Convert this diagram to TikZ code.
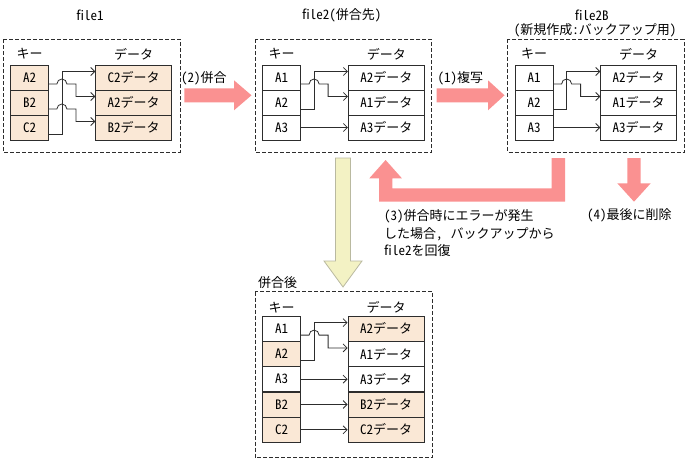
\documentclass[tikz,border=0pt]{standalone}
\usepackage{fontspec}
\setmainfont{Noto Sans CJK JP}[RawFeature=+hwid]
\usetikzlibrary{arrows.meta,calc}
\definecolor{beige}{RGB}{250,232,214}
\definecolor{pinkarrow}{RGB}{250,145,145}
\definecolor{paleyellow}{RGB}{243,242,196}
\definecolor{paleedge}{RGB}{185,185,160}
\definecolor{linec}{RGB}{45,45,45}
\begin{document}
\begin{tikzpicture}[x=1pt,y=-1pt,
  every node/.style={font=\fontsize{13}{17.3}\selectfont, inner sep=0pt},
  keycell/.style={draw=linec, line width=0.8pt, minimum width=38pt, minimum height=25pt},
  datacell/.style={draw=linec, line width=0.8pt, minimum width=76pt, minimum height=25pt},
  filled/.style={fill=beige},
  plain/.style={fill=white},
  filebox/.style={draw=linec, line width=0.9pt, dash pattern=on 4pt off 2pt},
  conn/.style={draw=linec, line width=0.8pt, -{Straight Barb[length=4pt,width=8pt]}},
  bigarrow/.style={fill=pinkarrow},
  palearrow/.style={fill=paleyellow, draw=paleedge, line width=0.8pt},
]
\useasboundingbox (0,0) rectangle (687,461);

% ---------- file1 ----------
\node (t1) at (90,15) {file1};
\draw[filebox] (3.3,39.3) rectangle (180,152.3);
\node (h1k) at (29.5,54) {キー};
\node (h1d) at (133.7,54) {データ};
\node[keycell,filled] (ak0) at (29.5,77.5) {A2};
\node[keycell,filled] (ak1) at (29.5,102.5) {B2};
\node[keycell,filled] (ak2) at (29.5,127.5) {C2};
\node[datacell,filled] (ad0) at (133.7,77.5) {C2データ};
\node[datacell,filled] (ad1) at (133.7,102.5) {A2データ};
\node[datacell,filled] (ad2) at (133.7,127.5) {B2データ};
\draw[conn] ([yshift=-6.5pt]ak2.east) -- ++(13,0) |- ([yshift=6pt]ad0.west);
\draw[conn] ([yshift=-6.5pt]ak0.east) -- ++(8,0) arc[start angle=180,end angle=0,radius=5pt] -- ++(9,0) |- ([yshift=6pt]ad1.west);
\draw[conn] ([yshift=-6.5pt]ak1.east) -- ++(8,0) arc[start angle=180,end angle=0,radius=5pt] -- ++(9,0) |- ([yshift=6pt]ad2.west);

% ---------- file2 ----------
\node (t2) at (341.7,15) {file2(併合先)};
\draw[filebox] (255,39.3) rectangle (431.7,152.3);
\node (h2k) at (281.7,54) {キー};
\node (h2d) at (386.3,54) {データ};
\node[keycell,plain] (bk0) at (281.7,77.5) {A1};
\node[keycell,plain] (bk1) at (281.7,102.5) {A2};
\node[keycell,plain] (bk2) at (281.7,127.5) {A3};
\node[datacell,plain] (bd0) at (386.3,77.5) {A2データ};
\node[datacell,plain] (bd1) at (386.3,102.5) {A1データ};
\node[datacell,plain] (bd2) at (386.3,127.5) {A3データ};
\draw[conn] ([yshift=-6.5pt]bk1.east) -- ++(13,0) |- ([yshift=6pt]bd0.west);
\draw[conn] ([yshift=-6.5pt]bk0.east) -- ++(8,0) arc[start angle=180,end angle=0,radius=5pt] -- ++(9,0) |- ([yshift=6pt]bd1.west);
\draw[conn] (bk2.east) -- (bd2.west);

% ---------- file2B ----------
\node (t3) at (591.7,15) {file2B};
\node (t3b) at (595,30) {(新規作成:バックアップ用)};
\draw[filebox] (507.7,39.3) rectangle (684,152.3);
\node (h3k) at (534.2,54) {キー};
\node (h3d) at (638.7,54) {データ};
\node[keycell,plain] (ck0) at (534.2,77.5) {A1};
\node[keycell,plain] (ck1) at (534.2,102.5) {A2};
\node[keycell,plain] (ck2) at (534.2,127.5) {A3};
\node[datacell,plain] (cd0) at (638.7,77.5) {A2データ};
\node[datacell,plain] (cd1) at (638.7,102.5) {A1データ};
\node[datacell,plain] (cd2) at (638.7,127.5) {A3データ};
\draw[conn] ([yshift=-6.5pt]ck1.east) -- ++(13,0) |- ([yshift=6pt]cd0.west);
\draw[conn] ([yshift=-6.5pt]ck0.east) -- ++(8,0) arc[start angle=180,end angle=0,radius=5pt] -- ++(9,0) |- ([yshift=6pt]cd1.west);
\draw[conn] (ck2.east) -- (cd2.west);

% ---------- merged ----------
\node[anchor=west] (t4) at (258,283) {併合後};
\draw[filebox] (255,291.7) rectangle (432.7,457.3);
\node (h4k) at (281.7,307.7) {キー};
\node (h4d) at (386,307.7) {データ};
\node[keycell,plain]  (mk0) at (281.7,328.6) {A1};
\node[keycell,filled] (mk1) at (281.7,353.9) {A2};
\node[keycell,plain]  (mk2) at (281.7,379.2) {A3};
\node[keycell,filled] (mk3) at (281.7,404.5) {B2};
\node[keycell,filled] (mk4) at (281.7,429.8) {C2};
\node[datacell,filled] (md0) at (386,328.6) {A2データ};
\node[datacell,plain]  (md1) at (386,353.9) {A1データ};
\node[datacell,plain]  (md2) at (386,379.2) {A3データ};
\node[datacell,filled] (md3) at (386,404.5) {B2データ};
\node[datacell,filled] (md4) at (386,429.8) {C2データ};
\draw[conn] ([yshift=-6.5pt]mk1.east) -- ++(13,0) |- ([yshift=6pt]md0.west);
\draw[conn] ([yshift=-6.5pt]mk0.east) -- ++(8,0) arc[start angle=180,end angle=0,radius=5pt] -- ++(9,0) |- ([yshift=6pt]md1.west);
\draw[conn] (mk2.east) -- (md2.west);
\draw[conn] (mk3.east) -- (md3.west);
\draw[conn] (mk4.east) -- (md4.west);

% ---------- big arrows ----------
\fill[bigarrow] (184.3,88.3) -- (234,88.3) -- (234,80.3) -- (251.5,95.3) -- (234,110.3) -- (234,102.3) -- (184.3,102.3) -- cycle;
\node[anchor=west] (l2) at (181,78.7) {(2)併合};
\fill[bigarrow] (436.7,88.3) -- (488,88.3) -- (488,80.3) -- (504.5,95.3) -- (488,110.3) -- (488,102.3) -- (436.7,102.3) -- cycle;
\node[anchor=west] (l1) at (437.5,78.7) {(1)複写};
\fill[bigarrow] (551.7,158) -- (565,158) -- (565,201.7) -- (379,201.7) -- (379,178.3) -- (369.3,178.3) -- (385.6,160) -- (401.9,178.3) -- (392.3,178.3) -- (392.3,188.3) -- (551.7,188.3) -- cycle;
\node[anchor=west, align=left] (l3) at (384,233.3) {(3)併合時にエラーが発生\\した場合,\hspace{0.6em}バックアップから\\file2を回復};
\fill[bigarrow] (627.3,158) -- (640.7,158) -- (640.7,183.3) -- (650.7,183.3) -- (634,201.7) -- (617.3,183.3) -- (627.3,183.3) -- cycle;
\node[anchor=west] (l4) at (587,215.7) {(4)最後に削除};
\draw[palearrow] (335.5,158) -- (350.5,158) -- (350.5,261) -- (362,261) -- (343,287) -- (324,261) -- (335.5,261) -- cycle;
\end{tikzpicture}
\end{document}
